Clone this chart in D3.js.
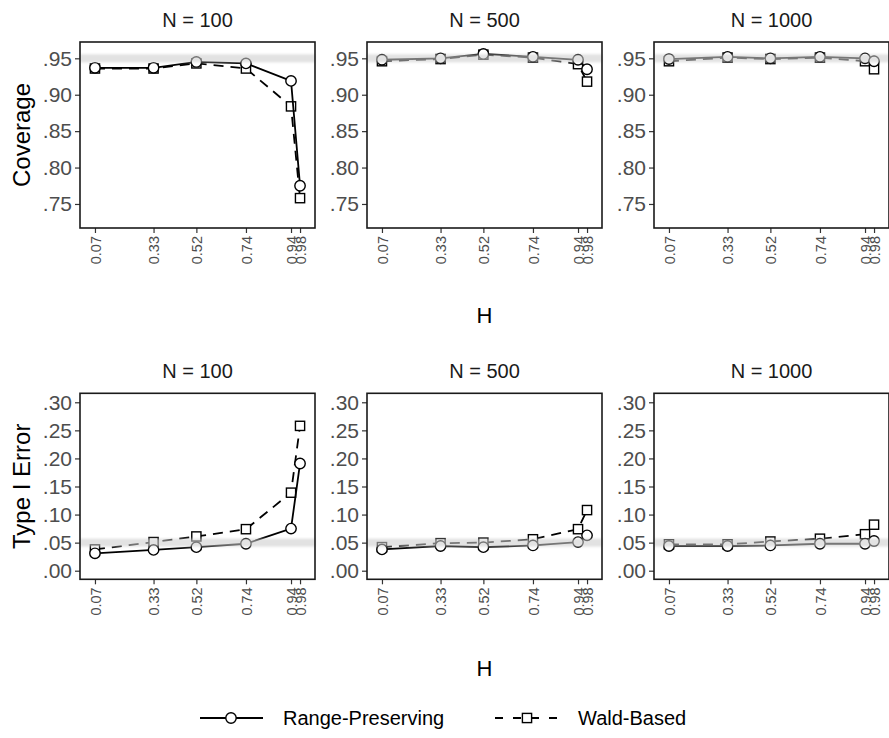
<!DOCTYPE html>
<html>
<head>
<meta charset="utf-8">
<script src="https://cdn.jsdelivr.net/npm/d3@7"></script>
<style>
  html, body { margin: 0; padding: 0; background: #ffffff; }
  svg { display: block; font-family: "Liberation Sans", Arial, Helvetica, sans-serif; }
</style>
</head>
<body>
<svg id="chart" width="889" height="738"></svg>
<script>
// Mixing proportion H on the x axis (one tick per simulated condition)
const H = [0.07, 0.33, 0.52, 0.74, 0.94, 0.98];
const hTickLabels = ["0.07", "0.33", "0.52", "0.74", "0.94", "0.98"];
const sampleSizes = [100, 500, 1000];

// Coverage of the 95% interval, one array per sample size and method
const coverageRangeN100  = [0.937, 0.937, 0.945, 0.943, 0.919, 0.775];
const coverageWaldN100   = [0.936, 0.936, 0.943, 0.936, 0.884, 0.758];
const coverageRangeN500  = [0.948, 0.950, 0.956, 0.952, 0.948, 0.935];
const coverageWaldN500   = [0.946, 0.949, 0.955, 0.951, 0.942, 0.918];
const coverageRangeN1000 = [0.949, 0.952, 0.950, 0.952, 0.950, 0.946];
const coverageWaldN1000  = [0.946, 0.951, 0.949, 0.951, 0.946, 0.935];

// Type I error rate at nominal alpha = .05
const typeIRangeN100  = [0.031, 0.037, 0.042, 0.048, 0.075, 0.191];
const typeIWaldN100   = [0.038, 0.051, 0.061, 0.074, 0.139, 0.258];
const typeIRangeN500  = [0.038, 0.044, 0.042, 0.045, 0.051, 0.063];
const typeIWaldN500   = [0.042, 0.049, 0.050, 0.056, 0.074, 0.108];
const typeIRangeN1000 = [0.044, 0.044, 0.045, 0.048, 0.048, 0.053];
const typeIWaldN1000  = [0.047, 0.047, 0.052, 0.057, 0.065, 0.082];

const coverageTicks = [0.75, 0.80, 0.85, 0.90, 0.95];
const typeITicks = [0.00, 0.05, 0.10, 0.15, 0.20, 0.25, 0.30];
const methods = ["Range-Preserving", "Wald-Based"];

const rows = [
  {
    title: "Coverage", target: 0.95, ticks: coverageTicks,
    domain: [0.717, 0.9724], top: 42, bottom: 228, xTitleY: 315,
    series: [
      [coverageRangeN100, coverageWaldN100],
      [coverageRangeN500, coverageWaldN500],
      [coverageRangeN1000, coverageWaldN1000]
    ]
  },
  {
    title: "Type I Error", target: 0.05, ticks: typeITicks,
    domain: [-0.0153, 0.316], top: 393.3, bottom: 579.3, xTitleY: 668,
    series: [
      [typeIRangeN100, typeIWaldN100],
      [typeIRangeN500, typeIWaldN500],
      [typeIRangeN1000, typeIWaldN1000]
    ]
  }
];

const panelLefts = [80, 367, 654];
const panelWidth = 235;
const xDomain = [0.0036, 1.0464];
const tickLen = 5;
const labelGray = "#4d4d4d";
const tickGray = "#333333";
const dashPattern = "10,7";

const svg = d3.select("#chart");

// soft blur for the nominal-level reference band
const defs = svg.append("defs");
defs.append("filter").attr("id", "soft")
  .attr("filterUnits", "userSpaceOnUse")
  .attr("x", 0).attr("y", 0).attr("width", 889).attr("height", 738)
  .append("feGaussianBlur").attr("stdDeviation", 1.2);

const fmt = v => d3.format(".2f")(v).replace(/^0\./, ".");

function drawCircle(g, x, y) {
  g.append("circle").attr("cx", x).attr("cy", y).attr("r", 5.2)
    .attr("fill", "#fff").attr("stroke", "#000").attr("stroke-width", 1.4);
}
function drawSquare(g, x, y) {
  g.append("rect").attr("x", x - 4.6).attr("y", y - 4.6).attr("width", 9.2).attr("height", 9.2)
    .attr("fill", "#fff").attr("stroke", "#000").attr("stroke-width", 1.4);
}

rows.forEach(row => {
  const y = d3.scaleLinear().domain(row.domain).range([row.bottom, row.top]);

  sampleSizes.forEach((n, p) => {
    const left = panelLefts[p];
    const x = d3.scaleLinear().domain(xDomain).range([left, left + panelWidth]);
    const g = svg.append("g");

    // facet strip title
    g.append("text").attr("x", left + panelWidth / 2).attr("y", row.top - 15)
      .attr("text-anchor", "middle").attr("font-size", 20).attr("fill", "#1a1a1a")
      .text(`N = ${n}`);

    // y axis
    const yAxis = d3.axisLeft(y).tickValues(row.ticks).tickFormat(fmt).tickSize(tickLen).tickPadding(3);
    const ya = g.append("g").attr("transform", `translate(${left},0)`).call(yAxis);
    ya.select(".domain").remove();
    ya.selectAll("line").attr("stroke", tickGray).attr("stroke-width", 1.2);
    ya.selectAll("text").attr("font-size", 21).attr("fill", labelGray)
      .attr("font-family", "Liberation Sans, Arial, sans-serif");

    // x axis with vertical tick labels
    const xAxis = d3.axisBottom(x).tickValues(H).tickFormat((d, i) => hTickLabels[i]).tickSize(tickLen);
    const xa = g.append("g").attr("transform", `translate(0,${row.bottom})`).call(xAxis);
    xa.select(".domain").remove();
    xa.selectAll("line").attr("stroke", tickGray).attr("stroke-width", 1.2);
    xa.selectAll("text")
      .attr("font-size", 14.5).attr("fill", labelGray)
      .attr("font-family", "Liberation Sans, Arial, sans-serif")
      .attr("text-anchor", "end")
      .attr("y", 0).attr("x", 0).attr("dy", "0.35em")
      .attr("transform", `translate(0,${tickLen + 3}) rotate(-90)`);

    // series: Wald first, range-preserving on top
    const [rangeVals, waldVals] = row.series[p];
    const line = d3.line().x((d, i) => x(H[i])).y(d => y(d));

    g.append("path").datum(waldVals).attr("d", line)
      .attr("fill", "none").attr("stroke", "#000").attr("stroke-width", 1.8)
      .attr("stroke-dasharray", dashPattern);
    waldVals.forEach((v, i) => drawSquare(g, x(H[i]), y(v)));

    g.append("path").datum(rangeVals).attr("d", line)
      .attr("fill", "none").attr("stroke", "#000").attr("stroke-width", 1.8);
    rangeVals.forEach((v, i) => drawCircle(g, x(H[i]), y(v)));

    // nominal level band over the data
    g.append("rect")
      .attr("x", left).attr("width", panelWidth)
      .attr("y", y(row.target) - 4).attr("height", 8)
      .attr("fill", "#cdcdcd").attr("fill-opacity", 0.58)
      .attr("filter", "url(#soft)");

    // panel border
    g.append("rect").attr("x", left).attr("y", row.top)
      .attr("width", panelWidth).attr("height", row.bottom - row.top)
      .attr("fill", "none").attr("stroke", "#1a1a1a").attr("stroke-width", 1.6);
  });

  // row y title
  const yMid = (row.top + row.bottom) / 2;
  svg.append("text").attr("transform", `translate(22,${yMid}) rotate(-90)`)
    .attr("text-anchor", "middle").attr("dy", "0.35em")
    .attr("font-size", 24).attr("fill", "#000").text(row.title);

  // row x title
  svg.append("text").attr("x", (panelLefts[0] + panelLefts[2] + panelWidth) / 2)
    .attr("y", row.xTitleY).attr("dy", "0.35em")
    .attr("text-anchor", "middle").attr("font-size", 22).attr("fill", "#000").text("H");
});

// legend
const legendY = 718;
const legend = svg.append("g");
const keys = [
  { x0: 200, label: methods[0], dashed: false },
  { x0: 495, label: methods[1], dashed: true }
];
keys.forEach(k => {
  legend.append("line").attr("x1", k.x0).attr("x2", k.x0 + 63)
    .attr("y1", legendY).attr("y2", legendY)
    .attr("stroke", "#000").attr("stroke-width", 1.8)
    .attr("stroke-dasharray", k.dashed ? "8,10" : null);
  if (k.dashed) drawSquare(legend, k.x0 + 32, legendY);
  else drawCircle(legend, k.x0 + 31, legendY);
  legend.append("text").attr("x", k.x0 + 83).attr("y", legendY).attr("dy", "0.35em")
    .attr("font-size", 20).attr("fill", "#000").text(k.label);
});
</script>
</body>
</html>
